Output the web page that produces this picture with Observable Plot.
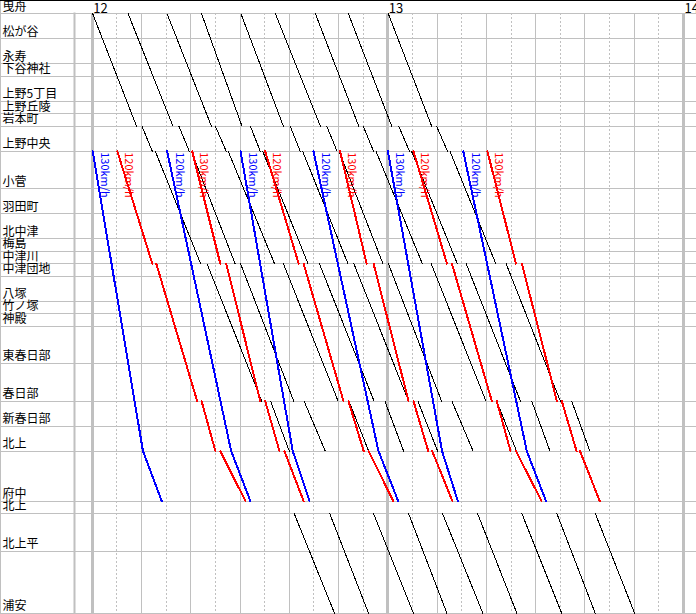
<!DOCTYPE html>
<html><head><meta charset="utf-8">
<script src="https://cdn.jsdelivr.net/npm/d3@7"></script>
<script src="https://cdn.jsdelivr.net/npm/@observablehq/plot@0.6"></script>
<style>
html,body{margin:0;padding:0;background:#fff;}
#chart svg{display:block;box-shadow:inset 0 1px 0 #000, inset 1px 0 0 #c0c0c0;}
</style></head><body><div id="chart"></div>
<script>
// Stations (top to bottom) and their distance units along the line
const stations = ["曳舟","松が谷","永寿","下谷神社","上野5丁目","上野丘陵","岩本町","上野中央","小菅","羽田町","北中津","梅島","中津川","中津団地","八塚","竹ノ塚","神殿","東春日部","春日部","新春日部","北上","府中","北上","北上平","浦安"];
const stationKm = [0,2,4,5,7,8,9,11,14,16,18,19,20,21,23,24,25,28,31,33,35,39,40,43,48];

// Time axis (minutes after 12:00)
const hourTicks = [0, 60, 120];
const hourLabels = ["12", "13", "14"];
const tenMinuteTicks = [0,10,20,30,40,50,60,70,80,90,100,110,120];
const fiveMinuteTicks = [5,15,25,35,45,55,65,75,85,95,105,115];

// Local trains (black): runs of [station index, minute]; gaps between runs are stops
const localTrains = [
  [[[0,0.1],[6,9.0]], [[6,10.1],[7,12.2]], [[7,12.8],[12,22.0]], [[12,23.3],[18,34.4]], [[18,36.2],[20,40.0]], [[22,41.0],[24,49.2]]],
  [[[0,7.3],[6,16.4]], [[6,17.6],[7,19.7]], [[7,20.1],[12,29.0]], [[12,30.1],[18,40.9]], [[18,43.0],[20,47.3]], [[22,48.2],[24,56.1]]],
  [[[0,15.2],[6,24.2]], [[6,25.0],[7,27.2]], [[7,27.6],[12,37.0]], [[12,38.8],[18,49.9]], [[18,52.1],[20,56.1]], [[22,57.1],[24,65.2]]],
  [[[0,22.2],[6,30.4]], [[6,32.1],[7,34.1]], [[7,34.6],[12,43.8]], [[12,46.1],[18,57.2]], [[18,59.4],[20,63.2]], [[22,64.2],[24,72.0]]],
  [[[0,30.2],[6,38.8]], [[6,40.2],[7,42.2]], [[7,42.7],[12,51.9]], [[12,53.1],[18,64.2]], [[18,66.1],[20,70.1]], [[22,71.1],[24,79.3]]],
  [[[0,37.2],[6,46.3]], [[6,47.6],[7,49.7]], [[7,50.1],[12,59.0]], [[12,60.1],[18,70.9]], [[18,73.0],[20,77.3]], [[22,78.2],[24,86.2]]],
  [[[0,45.3],[6,54.1]], [[6,55.0],[7,57.1]], [[7,57.6],[12,67.0]], [[12,68.8],[18,79.9]], [[18,82.1],[20,86.1]], [[22,87.2],[24,95.3]]],
  [[[0,52.0],[6,60.8]], [[6,62.2],[7,64.4]], [[7,64.8],[12,74.1]], [[12,75.9],[18,86.9]], [[18,89.2],[20,92.9]], [[22,94.3],[24,102.1]]],
  [[[0,60.1],[6,68.9]], [[6,69.9],[7,72.1]], [[7,72.6],[12,81.9]], [[12,84.0],[18,95.0]], [[18,97.3],[20,101.0]], [[22,102.1],[24,110.1]]]
];

// Blue express trains (non-stop to 府中)
const blueTrains = [
  [[[7,0.1],[20,10.3],[21,14.1]]],
  [[[7,15.2],[20,28.2],[21,32.1]]],
  [[[7,30.1],[20,40.7],[21,44.1]]],
  [[[7,44.9],[20,58.1],[21,62.1]]],
  [[[7,60.0],[20,71.0],[21,74.2]]],
  [[[7,75.3],[20,88.2],[21,92.1]]]
];
const blueSpeeds = ["130km/h","120km/h","130km/h","120km/h","130km/h","120km/h"];

// Red trains (stopping at 中津川, 春日部, 北上)
const redTrains = [
  [[[7,5.1],[12,12.2]], [[12,13.0],[18,21.3]], [[18,22.2],[20,25.0]], [[20,26.0],[21,31.1]]],
  [[[7,20.3],[12,26.0]], [[12,27.2],[18,34.1]], [[18,35.1],[20,38.0]], [[20,39.0],[21,42.9]]],
  [[[7,35.1],[12,41.9]], [[12,42.9],[18,51.0]], [[18,52.0],[20,55.1]], [[20,56.1],[21,61.1]]],
  [[[7,50.3],[12,55.7]], [[12,57.1],[18,64.2]], [[18,65.2],[20,68.2]], [[20,69.0],[21,73.1]]],
  [[[7,65.2],[12,72.0]], [[12,73.0],[18,81.1]], [[18,82.1],[20,84.9]], [[20,86.0],[21,91.2]]],
  [[[7,80.2],[12,86.0]], [[12,87.2],[18,94.3]], [[18,95.3],[20,98.3]], [[20,99.0],[21,103.0]]]
];
const redSpeeds = ["120km/h","130km/h","120km/h","130km/h","120km/h","130km/h"];

function toRows(trains, prefix) {
  const rows = [];
  trains.forEach((runs, i) => runs.forEach((run, j) => run.forEach(([s, t]) => rows.push({t, km: stationKm[s], id: prefix + i + "-" + j}))));
  return rows;
}
function starts(trains, speeds) {
  return trains.map((runs, i) => ({t: runs[0][0][1], km: stationKm[runs[0][0][0]], label: speeds[i]}));
}

const localRows = toRows(localTrains, "L");
const blueRows = toRows(blueTrains, "B");
const redRows = toRows(redTrains, "R");

const grid = "#c0c0c0";
const chart = Plot.plot({
  width: 696, height: 614,
  marginLeft: 74, marginRight: 0, marginTop: 13, marginBottom: 1,
  style: {fontFamily: "'Noto Sans CJK JP', sans-serif", fontSize: "12px", background: "#fff", color: "#000", overflow: "hidden"},
  x: {domain: [0, 120], range: [91.7, 683], axis: null, label: null},
  y: {domain: [0, 48], range: [13.3, 613], axis: null, label: null},
  marks: [
    Plot.ruleX(fiveMinuteTicks, {y1: 0, y2: 48, stroke: grid, strokeDasharray: "2,2", shapeRendering: "crispEdges"}),
    Plot.ruleX(tenMinuteTicks, {y1: 0, y2: 48, stroke: grid, shapeRendering: "crispEdges"}),
    Plot.ruleX(hourTicks, {y1: 0, y2: 48, stroke: grid, strokeWidth: 3, shapeRendering: "crispEdges"}),
    Plot.ruleY(stationKm, {stroke: grid, shapeRendering: "crispEdges"}),
    Plot.axisY(stationKm, {anchor: "left", tickSize: 74, tickFormat: () => "", label: null, stroke: grid, shapeRendering: "crispEdges"}),
    Plot.frame({anchor: "left", stroke: grid, strokeWidth: 2}),
    Plot.axisY(stationKm, {anchor: "left", tickSize: 0, tickPadding: 72, textAnchor: "start", dy: -7, fill: "#000", label: null,
      tickFormat: (d) => stations[stationKm.indexOf(d)], fontSize: 12}),
    Plot.axisX(hourTicks, {anchor: "top", tickSize: 0, tickPadding: 1, textAnchor: "start", dx: 1, fill: "#000", label: null,
      tickFormat: (d) => hourLabels[hourTicks.indexOf(d)], fontSize: 13}),
    Plot.line(localRows, {x: "t", y: "km", z: "id", stroke: "#000", strokeWidth: 1, shapeRendering: "crispEdges"}),
    Plot.line(redRows, {x: "t", y: "km", z: "id", stroke: "#ff0000", strokeWidth: 2, shapeRendering: "crispEdges"}),
    Plot.line(blueRows, {x: "t", y: "km", z: "id", stroke: "#0000ff", strokeWidth: 2, shapeRendering: "crispEdges"}),
    Plot.text(starts(redTrains, redSpeeds), {x: "t", y: "km", text: "label", rotate: 90, textAnchor: "start", dx: 11, dy: 1, fill: "#ff0000", fontSize: 11}),
    Plot.text(starts(blueTrains, blueSpeeds), {x: "t", y: "km", text: "label", rotate: 90, textAnchor: "start", dx: 12, dy: 1, fill: "#0000ff", fontSize: 11})
  ]
});
document.getElementById("chart").appendChild(chart);
</script></body></html>
